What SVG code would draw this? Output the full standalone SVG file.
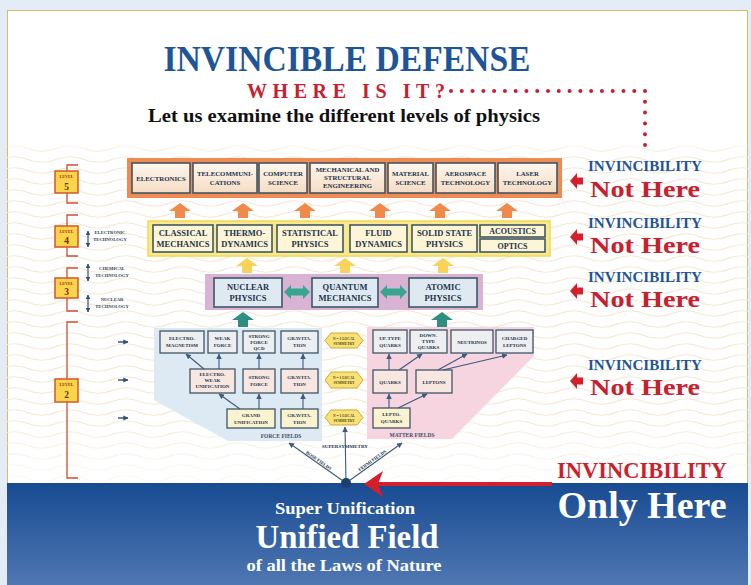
<svg xmlns="http://www.w3.org/2000/svg" width="751" height="585" viewBox="0 0 751 585">
<style>
.t{font-family:"Liberation Serif","Times New Roman",serif;font-weight:bold;text-anchor:middle}
.nv{fill:#23344c}
.b5{fill:url(#g5);stroke:#3f5767;stroke-width:1.6}
.b4{fill:#fdf5d6;stroke:#3f5767;stroke-width:1.6}
.b3{fill:#dfe9f1;stroke:#3f5767;stroke-width:1.6}
.ba{fill:#eceeef;stroke:#3f5767;stroke-width:1.3}
.bb{fill:#f8e6e0;stroke:#3f5767;stroke-width:1.3}
.bc{fill:#fbf3cf;stroke:#3f5767;stroke-width:1.3}
.s5{font-size:6.8px}
.s4{font-size:8.5px}
.s2{font-size:5px}
.lk{stroke:#3d5a7a;stroke-width:1.1;fill:none;marker-end:url(#ah)}
.br{stroke:#cf4d33;stroke-width:1.3;fill:none}
.lv{fill:#f8d54a;stroke:#d2572a;stroke-width:1.5}
.blue{fill:#1f5497}
.red{fill:#c8202f}
.sym{fill:#f7e27a;stroke:#d9a62c;stroke-width:1}
</style>
<defs>
<linearGradient id="g5" x1="0" y1="0" x2="0" y2="1"><stop offset="0" stop-color="#fff7ee"/><stop offset="1" stop-color="#f4dcc4"/></linearGradient>
<linearGradient id="band" x1="0" y1="0" x2="0" y2="1"><stop offset="0" stop-color="#184b92"/><stop offset="1" stop-color="#4f77b2"/></linearGradient>
<linearGradient id="fade" x1="0" y1="0" x2="0" y2="1"><stop offset="0" stop-color="#fff" stop-opacity="0"/><stop offset="0.04" stop-color="#fff" stop-opacity="1"/><stop offset="0.8" stop-color="#fff" stop-opacity="1"/><stop offset="1" stop-color="#fff" stop-opacity="0.2"/></linearGradient>
<mask id="wm"><rect x="7" y="140" width="741" height="343" fill="url(#fade)"/></mask>
<pattern id="waves" width="56" height="11" patternUnits="userSpaceOnUse"><path d="M0 5.5 Q14 0 28 5.5 T56 5.5" fill="none" stroke="#f4e8d4" stroke-width="1.2"/></pattern>
<marker id="ah" viewBox="0 0 10 10" refX="9" refY="5" markerWidth="5" markerHeight="5" orient="auto"><path d="M0 0 L10 5 L0 10 z" fill="#3d5a7a"/></marker>
<marker id="ahs" viewBox="0 0 10 10" refX="9" refY="5" markerWidth="4" markerHeight="4" orient="auto-start-reverse"><path d="M0 0 L10 5 L0 10 z" fill="#2b4f7e"/></marker>
<path id="up" d="M0 0 L11 8 L5 8 L5 15 L-5 15 L-5 8 L-11 8 Z"/>
<path id="lt" d="M0 0 L7 -8 L7 -3.5 L13 -3.5 L13 3.5 L7 3.5 L7 8 Z"/>
</defs>

<rect width="751" height="585" fill="#e4ecf6"/>
<rect x="7.5" y="10.5" width="740" height="580" fill="#fff" stroke="#c9c36b" stroke-width="1"/>
<rect x="7" y="140" width="741" height="343" fill="url(#waves)" mask="url(#wm)"/>
<rect x="7" y="483" width="741" height="102" fill="url(#band)"/>

<g id="title">
<text class="t" x="347" y="71" font-size="36" fill="#1e5598" textLength="367" lengthAdjust="spacingAndGlyphs">INVINCIBLE DEFENSE</text>
<text class="t red" x="346" y="98" font-size="20" textLength="198" lengthAdjust="spacing">WHERE IS IT?</text>
<text class="t" x="344" y="122" font-size="18.5" fill="#111" textLength="392" lengthAdjust="spacingAndGlyphs">Let us examine the different levels of physics</text>
<path d="M451 91 H645 V146" fill="none" stroke="#c8202f" stroke-width="4" stroke-linecap="round" stroke-dasharray="0 10.78"/>
</g>

<g id="levels">
<path class="br" d="M78 165 H67 V203 H78"/>
<path class="br" d="M78 215 H67 V256 H78"/>
<path class="br" d="M78 268 H67 V311 H78"/>
<path class="br" d="M78 322 H67 V478 H78"/>
<g id="level5"><rect class="lv" x="55" y="171" width="23" height="22"/><text class="t" x="66.5" y="178" font-size="4.2" fill="#b3261e">LEVEL</text><text class="t" x="66.5" y="189.5" font-size="9.5" fill="#7a2a10">5</text></g>
<g id="level4"><rect class="lv" x="55" y="226" width="23" height="21"/><text class="t" x="66.5" y="232.5" font-size="4.2" fill="#b3261e">LEVEL</text><text class="t" x="66.5" y="243.5" font-size="9.5" fill="#7a2a10">4</text></g>
<g id="level3"><rect class="lv" x="55" y="278" width="23" height="20"/><text class="t" x="66.5" y="284.5" font-size="4.2" fill="#b3261e">LEVEL</text><text class="t" x="66.5" y="295" font-size="9.5" fill="#7a2a10">3</text></g>
<g id="level2"><rect class="lv" x="55" y="379" width="23" height="23"/><text class="t" x="66.5" y="386" font-size="4.2" fill="#b3261e">LEVEL</text><text class="t" x="66.5" y="397.5" font-size="9.5" fill="#7a2a10">2</text></g>
<g id="tech" fill="#2b3d55">
<line x1="88" y1="231" x2="88" y2="247" stroke="#2b4f7e" stroke-width="1.2" marker-start="url(#ahs)" marker-end="url(#ahs)"/>
<line x1="88" y1="264" x2="88" y2="281" stroke="#2b4f7e" stroke-width="1.2" marker-start="url(#ahs)" marker-end="url(#ahs)"/>
<line x1="88" y1="295" x2="88" y2="312" stroke="#2b4f7e" stroke-width="1.2" marker-start="url(#ahs)" marker-end="url(#ahs)"/>
<text class="t" x="110" y="234" font-size="4.6">ELECTRONIC</text><text class="t" x="110" y="240.5" font-size="4.6">TECHNOLOGY</text>
<text class="t" x="112" y="270" font-size="4.6">CHEMICAL</text><text class="t" x="112" y="276.5" font-size="4.6">TECHNOLOGY</text>
<text class="t" x="112" y="301" font-size="4.6">NUCLEAR</text><text class="t" x="112" y="307.5" font-size="4.6">TECHNOLOGY</text>
<line x1="118" y1="342" x2="128" y2="342" stroke="#2b3d55" stroke-width="1.3" marker-end="url(#ahs)"/>
<line x1="118" y1="380" x2="128" y2="380" stroke="#2b3d55" stroke-width="1.3" marker-end="url(#ahs)"/>
<line x1="118" y1="418" x2="128" y2="418" stroke="#2b3d55" stroke-width="1.3" marker-end="url(#ahs)"/>
</g>
</g>

<g id="level5-row">
<rect x="127" y="158" width="435" height="40" fill="#ee8a52"/>
<g id="electronics"><rect class="b5" x="132" y="163" width="58" height="30"/><text class="t nv s5" x="161" y="180.5">ELECTRONICS</text></g>
<g id="telecom"><rect class="b5" x="193" y="163" width="64" height="30"/><text class="t nv s5" x="225" y="176">TELECOMMUNI-</text><text class="t nv s5" x="225" y="185">CATIONS</text></g>
<g id="computer"><rect class="b5" x="259" y="163" width="48" height="30"/><text class="t nv s5" x="283" y="176">COMPUTER</text><text class="t nv s5" x="283" y="185">SCIENCE</text></g>
<g id="mechanical"><rect class="b5" x="310" y="163" width="75" height="30"/><text class="t nv s5" x="347.5" y="171.5">MECHANICAL AND</text><text class="t nv s5" x="347.5" y="179.5">STRUCTURAL</text><text class="t nv s5" x="347.5" y="187.5">ENGINEERING</text></g>
<g id="material"><rect class="b5" x="388" y="163" width="45" height="30"/><text class="t nv s5" x="410.5" y="176">MATERIAL</text><text class="t nv s5" x="410.5" y="185">SCIENCE</text></g>
<g id="aerospace"><rect class="b5" x="436" y="163" width="59" height="30"/><text class="t nv s5" x="465.5" y="176">AEROSPACE</text><text class="t nv s5" x="465.5" y="185">TECHNOLOGY</text></g>
<g id="laser"><rect class="b5" x="498" y="163" width="59" height="30"/><text class="t nv s5" x="527.5" y="176">LASER</text><text class="t nv s5" x="527.5" y="185">TECHNOLOGY</text></g>
</g>

<g id="level4-row">
<rect x="148" y="221" width="402" height="35" fill="#f8e98e" stroke="#f3d84f" stroke-width="1.5"/>
<g id="classical"><rect class="b4" x="153" y="225" width="60" height="27"/><text class="t nv s4" x="183" y="235.5">CLASSICAL</text><text class="t nv s4" x="183" y="246.5">MECHANICS</text></g>
<g id="thermo"><rect class="b4" x="217" y="225" width="55" height="27"/><text class="t nv s4" x="244.5" y="235.5">THERMO-</text><text class="t nv s4" x="244.5" y="246.5">DYNAMICS</text></g>
<g id="statistical"><rect class="b4" x="277" y="225" width="66" height="27"/><text class="t nv s4" x="310" y="235.5">STATISTICAL</text><text class="t nv s4" x="310" y="246.5">PHYSICS</text></g>
<g id="fluid"><rect class="b4" x="350" y="225" width="57" height="27"/><text class="t nv s4" x="378.5" y="235.5">FLUID</text><text class="t nv s4" x="378.5" y="246.5">DYNAMICS</text></g>
<g id="solidstate"><rect class="b4" x="412" y="225" width="65" height="27"/><text class="t nv s4" x="444.5" y="235.5">SOLID STATE</text><text class="t nv s4" x="444.5" y="246.5">PHYSICS</text></g>
<g id="acoustics"><rect class="b4" x="480" y="225" width="65" height="12"/><text class="t nv" font-size="8" x="512.5" y="234">ACOUSTICS</text></g>
<g id="optics"><rect class="b4" x="480" y="239" width="65" height="13"/><text class="t nv" font-size="8" x="512.5" y="249">OPTICS</text></g>
</g>

<g id="level3-row">
<rect x="205" y="274" width="278" height="36" fill="#d8b3d3"/>
<g id="nuclear"><rect class="b3" x="214" y="278" width="68" height="29"/><text class="t nv s4" x="248" y="290">NUCLEAR</text><text class="t nv s4" x="248" y="300.5">PHYSICS</text></g>
<g id="quantum"><rect class="b3" x="312" y="278" width="66" height="29"/><text class="t nv s4" x="345" y="290">QUANTUM</text><text class="t nv s4" x="345" y="300.5">MECHANICS</text></g>
<g id="atomic"><rect class="b3" x="409" y="278" width="68" height="29"/><text class="t nv s4" x="443" y="290">ATOMIC</text><text class="t nv s4" x="443" y="300.5">PHYSICS</text></g>
</g>

<g id="level2">
<polygon points="154,328 322,328 322,441 228,441 154,400" fill="#dde9f3"/>
<polygon points="367,327 534,327 534,356 452,439 367,439" fill="#f6d5e0"/>
<g id="force-fields" class="t nv s2">
<rect class="ba" x="160" y="331" width="44" height="22"/><text x="182" y="340">ELECTRO-</text><text x="182" y="347">MAGNETISM</text>
<rect class="ba" x="208" y="331" width="29" height="22"/><text x="222.5" y="340">WEAK</text><text x="222.5" y="347">FORCE</text>
<rect class="ba" x="243" y="331" width="32" height="22"/><text x="259" y="337.5">STRONG</text><text x="259" y="343.5">FORCE</text><text x="259" y="349.5">QCD</text>
<rect class="ba" x="281" y="331" width="37" height="22"/><text x="299.5" y="340">GRAVITA-</text><text x="299.5" y="347">TION</text>
<rect class="bb" x="190" y="369" width="45" height="24"/><text x="212.5" y="376">ELECTRO-</text><text x="212.5" y="382">WEAK</text><text x="212.5" y="388">UNIFICATION</text>
<rect class="bb" x="243" y="369" width="32" height="24"/><text x="259" y="379">STRONG</text><text x="259" y="386">FORCE</text>
<rect class="bb" x="281" y="369" width="37" height="24"/><text x="299.5" y="379">GRAVITA-</text><text x="299.5" y="386">TION</text>
<rect class="bc" x="227" y="409" width="48" height="19"/><text x="251" y="416.5">GRAND</text><text x="251" y="423.5">UNIFICATION</text>
<rect class="bc" x="281" y="409" width="37" height="19"/><text x="299.5" y="416.5">GRAVITA-</text><text x="299.5" y="423.5">TION</text>
<text x="281" y="437.5" font-size="5.5" fill="#3d4f6a">FORCE FIELDS</text>
</g>
<g id="matter-fields" class="t nv s2">
<rect class="ba" x="373" y="330" width="34" height="23"/><text x="390" y="339.5">UP-TYPE</text><text x="390" y="346.5">QUARKS</text>
<rect class="ba" x="410" y="330" width="37" height="23"/><text x="428.5" y="337">DOWN-</text><text x="428.5" y="343">TYPE</text><text x="428.5" y="349">QUARKS</text>
<rect class="ba" x="451" y="330" width="42" height="23"/><text x="472" y="343.5">NEUTRINOS</text>
<rect class="ba" x="496" y="330" width="37" height="23"/><text x="514.5" y="339.5">CHARGED</text><text x="514.5" y="346.5">LEPTONS</text>
<rect class="bb" x="373" y="370" width="34" height="23"/><text x="390" y="383.5">QUARKS</text>
<rect class="bb" x="416" y="370" width="36" height="23"/><text x="434" y="383.5">LEPTONS</text>
<rect class="bc" x="373" y="408" width="37" height="20"/><text x="391.5" y="416">LEPTO-</text><text x="391.5" y="423">QUARKS</text>
<text x="412" y="437" font-size="5.5" fill="#3d4f6a">MATTER FIELDS</text>
</g>
<g id="symmetries" class="t" font-size="3.6" fill="#5a4a10">
<path class="sym" d="M325 340.5 L331 333 L357 333 L363 340.5 L357 348 L331 348 Z"/><text x="344" y="339.5">N = 1 LOCAL</text><text x="344" y="344.5">SYMMETRY</text>
<path class="sym" d="M325 380 L331 372 L357 372 L363 380 L357 388 L331 388 Z"/><text x="344" y="379">N = 1 LOCAL</text><text x="344" y="384">SYMMETRY</text>
<path class="sym" d="M325 417.5 L331 410 L357 410 L363 417.5 L357 425 L331 425 Z"/><text x="344" y="416.5">N = 1 LOCAL</text><text x="344" y="421.5">SYMMETRY</text>
</g>
</g>

<g id="connectors">
<use href="#up" x="180" y="203" fill="#f08a4b"/>
<use href="#up" x="243" y="203" fill="#f08a4b"/>
<use href="#up" x="305" y="203" fill="#f08a4b"/>
<use href="#up" x="380" y="203" fill="#f08a4b"/>
<use href="#up" x="440" y="203" fill="#f08a4b"/>
<use href="#up" x="507" y="203" fill="#f08a4b"/>
<use href="#up" x="247" y="258" fill="#f8d25a"/>
<use href="#up" x="345" y="258" fill="#f8d25a"/>
<use href="#up" x="443" y="258" fill="#f8d25a"/>
<use href="#up" x="243" y="312" fill="#2e8f80"/>
<use href="#up" x="442" y="312" fill="#2e8f80"/>
<path d="M284 292 L291 285 L291 288.5 L303 288.5 L303 285 L310 292 L303 299 L303 295.5 L291 295.5 L291 299 Z" fill="#38a68e"/>
<path d="M380 292 L387 285 L387 288.5 L400 288.5 L400 285 L407 292 L400 299 L400 295.5 L387 295.5 L387 299 Z" fill="#38a68e"/>
<line class="lk" x1="204" y1="369" x2="186" y2="354"/>
<line class="lk" x1="219" y1="369" x2="219" y2="354"/>
<line class="lk" x1="259" y1="369" x2="259" y2="354"/>
<line class="lk" x1="303" y1="369" x2="303" y2="354"/>
<line class="lk" x1="240" y1="409" x2="219" y2="394"/>
<line class="lk" x1="259" y1="409" x2="259" y2="394"/>
<line class="lk" x1="303" y1="409" x2="303" y2="394"/>
<line class="lk" x1="389" y1="370" x2="389" y2="354"/>
<line class="lk" x1="399" y1="370" x2="422" y2="354"/>
<line class="lk" x1="438" y1="370" x2="467" y2="354"/>
<line class="lk" x1="443" y1="370" x2="507" y2="355"/>
<line class="lk" x1="389" y1="408" x2="389" y2="394"/>
<line class="lk" x1="398" y1="408" x2="427" y2="394"/>
<line class="lk" x1="346" y1="483" x2="345" y2="427"/>
<line class="lk" x1="346" y1="483" x2="289" y2="443"/>
<line class="lk" x1="346" y1="483" x2="402" y2="443"/>
<circle cx="346" cy="483" r="5" fill="#1a3f6e"/>
<text class="t" x="345" y="447.5" font-size="5" fill="#23344c">SUPERSYMMETRY</text>
<text class="t" transform="translate(317,463) rotate(34.6)" x="0" y="-1.5" font-size="4.6" fill="#23344c">BOSE FIELDS</text>
<text class="t" transform="translate(374,463) rotate(-35.5)" x="0" y="-1.5" font-size="4.6" fill="#23344c">FERMI FIELDS</text>
<line x1="378" y1="484" x2="552" y2="484" stroke="#d4202c" stroke-width="4"/>
<path d="M364 484 L383 471 L378 484 L383 497 Z" fill="#d4202c"/>
</g>

<g id="not-here">
<g id="nh5"><use href="#lt" x="570" y="181" fill="#d4202c"/><text class="t blue" x="645" y="171" font-size="14.5" textLength="114" lengthAdjust="spacingAndGlyphs">INVINCIBILITY</text><text class="t red" x="645" y="197" font-size="24" textLength="110" lengthAdjust="spacingAndGlyphs">Not Here</text></g>
<g id="nh4"><use href="#lt" x="570" y="237" fill="#d4202c"/><text class="t blue" x="645" y="228" font-size="14.5" textLength="114" lengthAdjust="spacingAndGlyphs">INVINCIBILITY</text><text class="t red" x="645" y="253" font-size="24" textLength="110" lengthAdjust="spacingAndGlyphs">Not Here</text></g>
<g id="nh3"><use href="#lt" x="570" y="291" fill="#d4202c"/><text class="t blue" x="645" y="282" font-size="14.5" textLength="114" lengthAdjust="spacingAndGlyphs">INVINCIBILITY</text><text class="t red" x="645" y="307" font-size="24" textLength="110" lengthAdjust="spacingAndGlyphs">Not Here</text></g>
<g id="nh2"><use href="#lt" x="570" y="381" fill="#d4202c"/><text class="t blue" x="645" y="370" font-size="14.5" textLength="114" lengthAdjust="spacingAndGlyphs">INVINCIBILITY</text><text class="t red" x="645" y="395" font-size="24" textLength="110" lengthAdjust="spacingAndGlyphs">Not Here</text></g>
</g>

<g id="unified-field">
<text class="t" x="642" y="478" font-size="24" fill="#cf1f2b" textLength="170" lengthAdjust="spacingAndGlyphs">INVINCIBILITY</text>
<text class="t" x="642" y="518" font-size="37" fill="#fff" textLength="169" lengthAdjust="spacingAndGlyphs">Only Here</text>
<text class="t" x="345" y="514" font-size="16" fill="#fff" textLength="140" lengthAdjust="spacingAndGlyphs">Super Unification</text>
<text class="t" x="347" y="548" font-size="33" fill="#fff" textLength="183" lengthAdjust="spacingAndGlyphs">Unified Field</text>
<text class="t" x="344" y="571" font-size="17" fill="#fff" textLength="195" lengthAdjust="spacingAndGlyphs">of all the Laws of Nature</text>
</g>
</svg>
